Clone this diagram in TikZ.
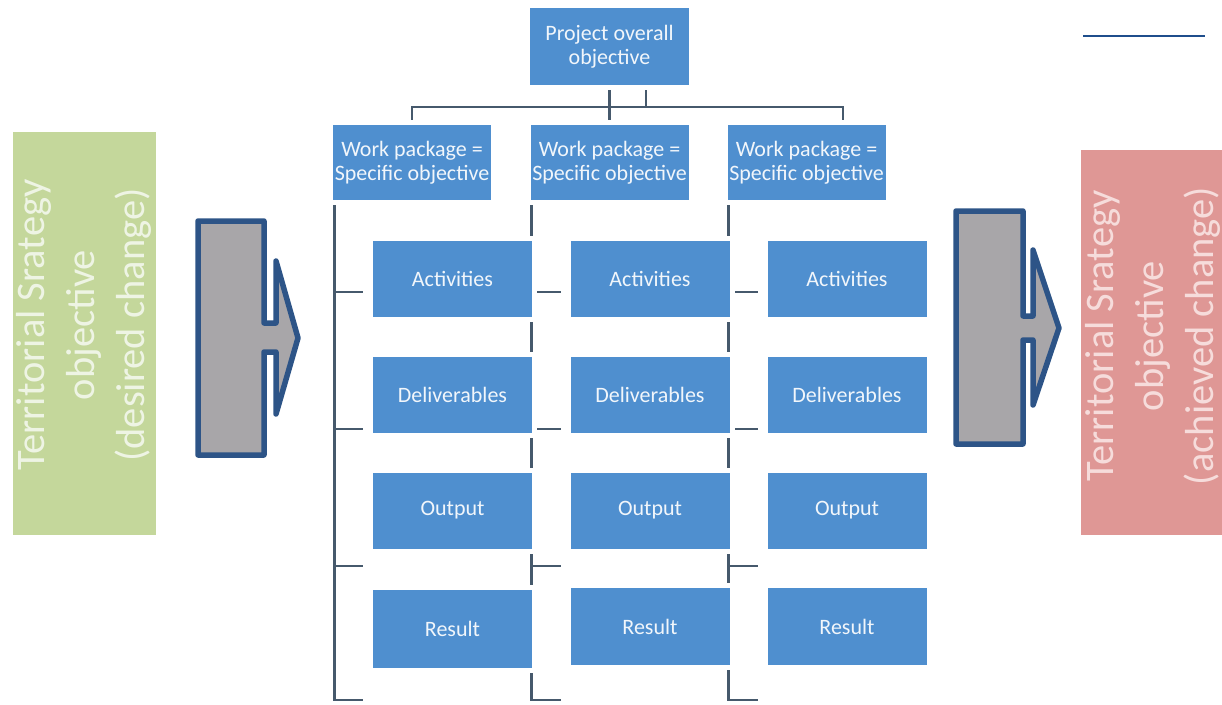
\documentclass[tikz,border=0pt]{standalone}
\usepackage{fontspec}
\setmainfont{Carlito}
\usetikzlibrary{backgrounds}
\definecolor{boxblue}{HTML}{4F8FCF}
\definecolor{conncol}{HTML}{46596C}
\definecolor{arrowedge}{HTML}{2D5487}
\definecolor{arrowfill}{HTML}{A8A6A9}
\definecolor{greenbox}{HTML}{C4D79B}
\definecolor{redbox}{HTML}{DF9795}
\definecolor{greentext}{HTML}{EEF4E4}
\definecolor{redtext}{HTML}{F6DCDB}
\definecolor{topline}{HTML}{1F4E8C}
\begin{document}
\begin{tikzpicture}[x=1pt,y=-1pt,
  bluebox/.style={fill=boxblue, text=white!92!boxblue, inner sep=0pt, align=center,
    font=\fontsize{22}{24.5}\selectfont, preaction={draw=white,line width=10pt}},
  wpbox/.style={bluebox, minimum width=158pt, minimum height=75pt},
  childbox/.style={bluebox, minimum width=159pt, minimum height=76pt},
  conn/.style={draw=conncol, line width=2.8pt},
  sidebox/.style={inner sep=0pt, draw=none},
  sidetext/.style={rotate=90, align=center, inner sep=0pt, font=\fontsize{40.5}{50}\selectfont},
  blockarrow/.style={draw=arrowedge, fill=arrowfill, line width=5.5pt, line join=round}]
\useasboundingbox (0,0) rectangle (1222,704);

% top-right rule
\coordinate (tlA) at (1083,36);
\coordinate (tlB) at (1205,36);
\draw[topline, line width=2pt] (tlA) -- (tlB);

% side boxes
\node[sidebox, fill=greenbox, minimum width=143pt, minimum height=403pt] (gbox) at (84.5,333.5) {};
\node[sidetext, text=greentext] (gtext) at (84,325) {Territorial Srategy\\objective\\(desired change)};
\node[sidebox, fill=redbox, minimum width=160pt, minimum height=385pt] (rbox) at (1161,342.5) {};
\node[sidetext, text=redtext] (rtext) at (1153,336) {Territorial Srategy\\objective\\(achieved change)};

% block arrows
\draw[blockarrow] (198,221) -- (264,221) -- (264,323) -- (276,323) -- (276,261) -- (298,338)
  -- (276,414) -- (276,352) -- (264,352) -- (264,455) -- (198,455) -- cycle;
\draw[blockarrow] (956,211) -- (1023,211) -- (1023,316) -- (1033,316) -- (1033,250) -- (1059,328)
  -- (1033,405) -- (1033,340) -- (1023,340) -- (1023,444) -- (956,444) -- cycle;

% hierarchy boxes
\node[bluebox, minimum width=159pt, minimum height=77pt] (top) at (609.5,46.5) {Project overall\\objective};
\node[wpbox] (wp1) at (412,162.5) {Work package =\\Specific objective};
\node[wpbox] (wp2) at (609.5,162.5) {Work package =\\Specific objective};
\node[wpbox] (wp3) at (806.5,162.5) {Work package =\\Specific objective};

\foreach \c/\x in {1/452.5, 2/650, 3/847}{
  \node[childbox] (a\c) at (\x,279) {Activities};
  \node[childbox] (d\c) at (\x,395) {Deliverables};
  \node[childbox] (o\c) at (\x,510.5) {Output};
}
\node[childbox, minimum height=78pt] (r1) at (452.5,629) {Result};
\node[childbox, minimum height=77pt] (r2) at (650,626.5) {Result};
\node[childbox, minimum height=77pt] (r3) at (847,626.5) {Result};

% connectors
\begin{pgfonlayer}{background}
  \coordinate (busL) at (412,107);
  \coordinate (busR) at (843,107);
  \draw[conn] (top.south) -- (wp2.north);
  \draw[conn] ([xshift=36.5pt]top.south) -- ([xshift=36.5pt]top.south |- busL);
  \draw[conn] (wp1.north) -- (wp1.north |- busL) -- (busR) -- ([xshift=36.5pt]wp3.north);
  \foreach \w in {1,2,3}{
    \coordinate (sp\w) at ([xshift=1.5pt]wp\w.south west);
    \coordinate (spend\w) at ([xshift=1.5pt]wp\w.south west |- 0,700);
    \draw[conn] (sp\w) -- (spend\w) -- ++(29,0);
    \foreach \ty in {292,429,566}{
      \draw[conn] (sp\w |- 0,\ty) -- ++(29,0);
    }
  }
\end{pgfonlayer}
\end{tikzpicture}
\end{document}
